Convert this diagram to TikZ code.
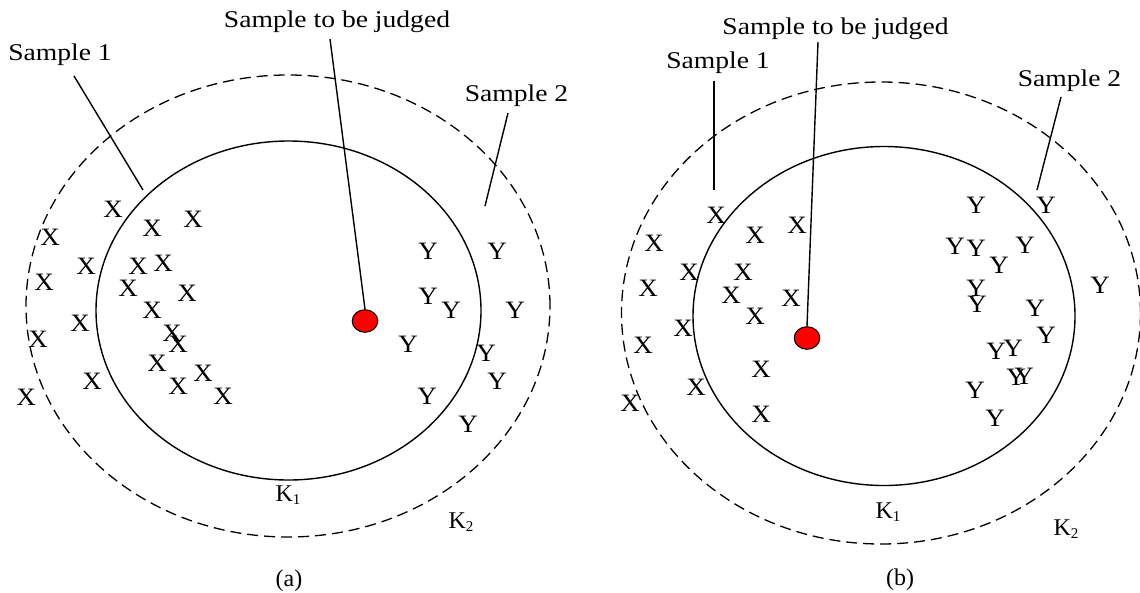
\documentclass[tikz,border=0pt]{standalone}
\usepackage{fontspec}
\setmainfont{Liberation Serif}
\usepackage{graphicx}
\usetikzlibrary{shapes.geometric}
\newcommand{\wide}[1]{\scalebox{1.15}[1]{#1}}
\newcommand{\ltr}[1]{\scalebox{1.08}[1]{#1}}
\newcommand{\subk}[1]{K\raisebox{-3pt}{\fontsize{15}{15}\selectfont #1}}
\begin{document}
\begin{tikzpicture}[x=1pt,y=-1pt,
  lbl/.style={font=\fontsize{24}{26}\selectfont, inner sep=0pt, anchor=base},
  pnt/.style={font=\fontsize{25}{27}\selectfont, inner sep=0pt},
  reddot/.style={draw=black, line width=1pt, fill=red, ellipse, inner sep=0pt, minimum width=25.6pt, minimum height=22.6pt},
  kring/.style={line width=1.4pt},
  oring/.style={line width=1.3pt, dash pattern=on 11pt off 6pt},
  lead/.style={line width=1.4pt}]
\useasboundingbox (0,0) rectangle (1140,592);
\fill[white] (0,0) rectangle (1140,592);

% ---------------- panel (a) ----------------
\draw[oring] (288,306) ellipse [x radius=262pt, y radius=231pt];
\draw[kring] (288.5,310.5) ellipse [x radius=192.5pt, y radius=169.5pt];
\node[reddot] (da) at (365,321) {};

\node[lbl] (sja) at (337,27.5) {\wide{Sample to be judged}};
\node[lbl] (s1a) at (60,60.5) {\wide{Sample 1}};
\node[lbl] (s2a) at (516.5,101.7) {\wide{Sample 2}};
\node[lbl] (k1a) at (288,501) {\subk{1}};
\node[lbl] (k2a) at (461,528) {\subk{2}};
\node[lbl] (capa) at (289,586) {(a)};

\coordinate (sja0) at (330,39);
\coordinate (s1a0) at (74,76);
\coordinate (s1a1) at (143,190);
\coordinate (s2a0) at (508,113);
\coordinate (s2a1) at (485,206);
\draw[lead] (sja0) -- (da.north);
\draw[lead] (s1a0) -- (s1a1);
\draw[lead] (s2a0) -- (s2a1);

\foreach \i/\x/\y in {1/113/209,2/50/237,3/152/228,4/193/219,5/86/266,6/44/282,7/138/266,
  8/163/263,9/128/288,10/187/293,11/152/310,12/80/323,13/38/339,14/172/333,15/178/344,
  16/157/363,17/203/373,18/92/381,19/178/386,20/223/396,21/26/397}
  \node[pnt] (xa\i) at (\x,\y) {\ltr{X}};

\foreach \i/\x/\y in {1/428/251,2/497/251,3/428/296,4/451/310,5/515/310,6/408/344,
  7/486/353,8/497/381,9/427/396,10/468/424}
  \node[pnt] (ya\i) at (\x,\y) {\ltr{Y}};

% ---------------- panel (b) ----------------
\draw[oring] (881,313) ellipse [x radius=259.5pt, y radius=231pt];
\draw[kring] (884,316) ellipse [x radius=191pt, y radius=169.5pt];
\node[reddot] (db) at (807,338) {};

\node[lbl] (sjb) at (835.5,34.3) {\wide{Sample to be judged}};
\node[lbl] (s1b) at (718,68.3) {\wide{Sample 1}};
\node[lbl] (s2b) at (1069.5,86.7) {\wide{Sample 2}};
\node[lbl] (k1b) at (888,518) {\subk{1}};
\node[lbl] (k2b) at (1066,535) {\subk{2}};
\node[lbl] (capb) at (900,585) {(b)};

\coordinate (sjb0) at (818,42);
\coordinate (s1b0) at (714,81);
\coordinate (s1b1) at (714,190);
\coordinate (s2b0) at (1061,97);
\coordinate (s2b1) at (1037,190);
\draw[lead] (sjb0) -- (db.north);
\draw[lead] (s1b0) -- (s1b1);
\draw[lead] (s2b0) -- (s2b1);

\foreach \i/\x/\y in {1/716/215,2/654/243,3/755/235,4/797/225,5/689/272,6/743/272,
  7/648/288,8/731/295,9/791/298,10/755/316,11/683/328,12/643/345,13/761/369,
  14/696/387,15/630/403,16/761/414}
  \node[pnt] (xb\i) at (\x,\y) {\ltr{X}};

\foreach \i/\x/\y in {1/976/205,2/1046/205,3/955/246,4/976/248,5/1025/245,6/999/265,
  7/1100/285,8/976/288,9/977/304,10/1035/308,11/1046/335,12/996/351,13/1013/348,
  14/1016/377,15/1024/376,16/975/390,17/995/418}
  \node[pnt] (yb\i) at (\x,\y) {\ltr{Y}};
\end{tikzpicture}
\end{document}
